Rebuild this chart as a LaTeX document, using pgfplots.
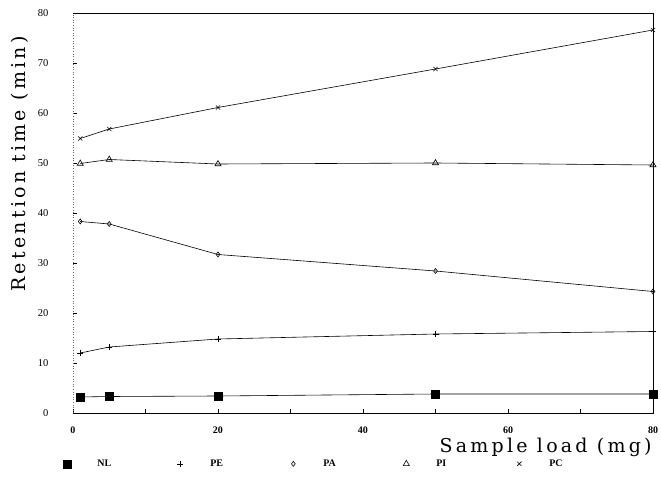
\documentclass[border=0pt]{standalone}
\usepackage{fontspec}
\setmainfont{Liberation Serif}
\newfontfamily\labfont[LetterSpace=17]{DejaVu Serif}
\usepackage{pgfplots}
\pgfplotsset{compat=1.18}
\begin{document}
\begin{tikzpicture}[x=1pt,y=1pt]
\useasboundingbox (0,0) rectangle (661,479);
\begin{axis}[
  at={(73pt,66pt)}, anchor=south west,
  scale only axis, width=580pt, height=400pt,
  xmin=0, xmax=80, ymin=0, ymax=80,
  axis line style={draw=none},
  xtick={0,10,...,80}, xticklabels={0,,20,,40,,60,,80},
  ytick={0,10,...,80},
  tick pos=left, tick align=inside, major tick length=4pt,
  tick style={black, line width=0.6pt},
  /pgf/number format/assume math mode=true,
  yticklabel style={font=\fontsize{10.5}{12}\selectfont, xshift=-21pt},
  xticklabel style={font=\bfseries\fontsize{10}{12}\selectfont, yshift=-10pt},
  xlabel={\labfont\fontsize{19}{22}\selectfont Sample load (mg)},
  ylabel={\labfont\fontsize{19}{22}\selectfont Retention time (min)},
  xlabel style={at={(rel axis cs:0.998,-0.085)}, anchor=east, inner sep=0pt},
  ylabel style={at={(rel axis cs:-0.0914,0.6225)}, anchor=center},
  clip=false,
  every axis plot/.append style={black, line width=0.6pt},
  legend columns=5,
  legend style={draw=none, fill=none, inner sep=0pt, at={(rel axis cs:-0.017,-0.127)}, anchor=west,
    font=\bfseries\fontsize{10}{12}\selectfont,
    nodes={text width=16pt, align=left, inner sep=1pt},
    /tikz/every odd column/.append style={column sep=0pt},
    /tikz/every even column/.append style={column sep=62pt}},
  legend image code/.code={\draw[#1, only marks] plot coordinates {(0pt,0pt)}; \path[draw=none] (-4pt,0pt) -- (29pt,0pt);},
]
\addplot[mark=square*, mark size=4pt] coordinates {(1,3.2) (5,3.3) (20,3.4) (50,3.8) (80,3.8)};
\addlegendentry{NL}
\addplot[mark=+, mark size=3pt] coordinates {(1,12.0) (5,13.2) (20,14.8) (50,15.8) (80,16.3)};
\addlegendentry{PE}
\addplot[mark=diamond, mark size=2.5pt, mark options={fill=white}] coordinates {(1,38.3) (5,37.8) (20,31.7) (50,28.4) (80,24.3)};
\addlegendentry{PA}
\addplot[mark=triangle, mark size=3.5pt, mark options={fill=white}] coordinates {(1,49.9) (5,50.7) (20,49.8) (50,50.0) (80,49.6)};
\addlegendentry{PI}
\addplot[mark=x, mark size=3pt] coordinates {(1,54.9) (5,56.8) (20,61.1) (50,68.8) (80,76.6)};
\addlegendentry{PC}
\draw[black, line width=0.8pt] (rel axis cs:0,0) -- (rel axis cs:1,0) -- (rel axis cs:1,1) -- (rel axis cs:0,1);
\draw[black!60, line width=0.6pt, dotted] (rel axis cs:0,0) -- (rel axis cs:0,1);
\end{axis}
\end{tikzpicture}
\end{document}
